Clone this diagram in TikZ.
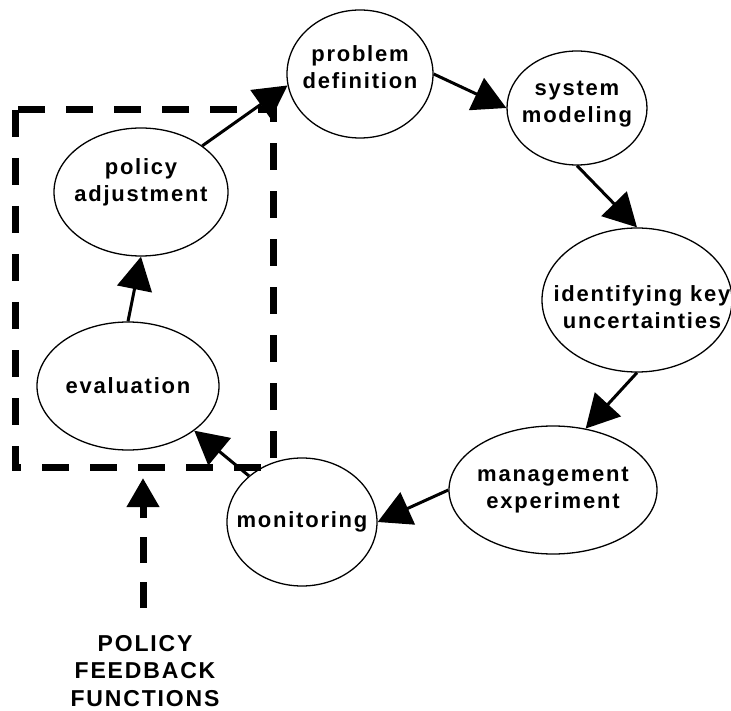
\documentclass[tikz,border=0pt]{standalone}
\usepackage{fontspec}
\setmainfont{Liberation Sans}
\newfontfamily\stagefont[LetterSpace=8]{Liberation Sans}
\usetikzlibrary{shapes.geometric,arrows.meta}
\begin{document}
\begin{tikzpicture}[x=1pt,y=-1pt,
        stage/.style={draw, ellipse, line width=1.3pt, inner sep=0pt},
        lab/.style={font=\stagefont\bfseries\fontsize{22}{27}\selectfont, align=center},
        flow/.style={line width=3pt, -{Triangle[length=33pt,width=35pt]}},
        fb/.style={line width=7pt, dash pattern=on 27pt off 21pt}]
    \useasboundingbox (0,0) rectangle (731,711);
    % the cycle
    \node[stage, minimum width=146, minimum height=128,
        label={[lab, yshift=7pt]center:problem\\definition}] (problem) at (360,74) {};
    \node[stage, minimum width=140, minimum height=114,
        label={[lab, yshift=4pt]center:system\\modeling}] (system) at (577,108) {};
    \node[stage, minimum width=190, minimum height=144,
        label={[lab, xshift=5pt, yshift=-7pt]center:identifying key\\uncertainties}] (ident) at (637,300) {};
    \node[stage, minimum width=208, minimum height=128,
        label={[lab]center:management\\experiment}] (manage) at (553,490) {};
    \node[stage, minimum width=150, minimum height=128,
        label={[lab]center:monitoring}] (monitor) at (302,522) {};
    \node[stage, minimum width=182, minimum height=128,
        label={[lab]center:evaluation}] (eval) at (128,386) {};
    \node[stage, minimum width=174, minimum height=128,
        label={[lab, yshift=10pt]center:policy\\adjustment}] (policy) at (141,192) {};
    \draw[flow] (policy.37) -- (problem.189);
    \draw[flow] (problem.east) -- (system.west);
    \draw[flow] (system.south) -- (ident.north);
    \draw[flow] (ident.south) -- (manage.62);
    \draw[flow] (manage.west) -- (monitor.east);
    \draw[flow] (monitor.139) -- (eval.326);
    \draw[flow] (eval.north) -- (policy.south);
    % feedback part
    \draw[fb] (15,110) rectangle (273,467);
    \coordinate (fbtail) at (143,608);
    \coordinate (fbtip) at (143,478);
    \draw[fb, dash pattern=on 26pt off 19pt, -{Triangle[length=29pt,width=31pt]}] (fbtail) -- (fbtip);
    \node[font=\stagefont\bfseries\fontsize{23}{27.5}\selectfont, align=center] (fbtext) at (145,671) {POLICY\\FEEDBACK\\FUNCTIONS};
\end{tikzpicture}
\end{document}
